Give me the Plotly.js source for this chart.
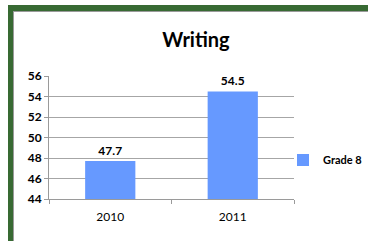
<!DOCTYPE html>
<html>
<head>
<meta charset="utf-8">
<script src="https://cdn.plot.ly/plotly-3.0.1.min.js"></script>
<style>
  html, body { margin:0; padding:0; background:#fff; }
  #wrap { position:relative; width:368px; height:241px; overflow:hidden; }
  #chart { position:absolute; left:0; top:0; width:368px; height:241px; }
  #frame { position:absolute; left:8px; top:5px; width:400px; height:300px;
           border-left:5px solid #386a33; border-top:6px solid #386a33; pointer-events:none; }
  #frame2 { position:absolute; left:13px; top:11px; width:400px; height:300px;
           border-left:1px solid #9a9a9a; border-top:1px solid #9a9a9a; pointer-events:none; }
</style>
</head>
<body>
<div id="wrap">
  <div id="chart"></div>
  <div id="frame"></div>
  <div id="frame2"></div>
</div>
<script>
const categories = ["2010", "2011"];
const grade8 = [47.7, 54.5];
const seriesName = "Grade 8";
const titleText = "Writing";

const FONT = "Lato, 'Open Sans', sans-serif";

Plotly.newPlot("chart", [{
  type: "bar",
  x: categories,
  y: grade8,
  name: seriesName,
  marker: { color: "#6699ff" },
  text: grade8.map(v => v.toFixed(1)),
  textposition: "outside",
  textfont: { family: FONT, size: 12, color: "#000", weight: "bold" },
  cliponaxis: false,
  showlegend: true,
  hoverinfo: "none"
}], {
  width: 368, height: 241,
  margin: { l: 49, r: 74, t: 76, b: 42, pad: 0, autoexpand: false },
  paper_bgcolor: "#fff", plot_bgcolor: "#fff",
  font: { family: FONT, color: "#000" },
  title: {
    text: "<b>" + titleText + "</b>",
    font: { family: FONT, size: 20, color: "#000" },
    x: 196/368, xanchor: "center", xref: "container",
    y: 1 - 40/241, yanchor: "middle", yref: "container"
  },
  bargap: 0.59,
  xaxis: {
    type: "category",
    showline: true, linecolor: "#9a9a9a", linewidth: 1,
    ticks: "outside", ticklen: 4, tickcolor: "#9a9a9a", tickson: "boundaries",
    ticklabelstandoff: 7,
    showgrid: false,
    tickfont: { family: FONT, size: 12, color: "#000" }
  },
  yaxis: {
    range: [44, 56], dtick: 2, tick0: 44,
    showline: true, linecolor: "#9a9a9a", linewidth: 1,
    ticks: "outside", ticklen: 4, tickcolor: "#9a9a9a",
    showgrid: true, gridcolor: "#a6a6a6", gridwidth: 1,
    zeroline: false,
    tickfont: { family: FONT, size: 12, color: "#000", weight: "bold" }
  },
  legend: {
    xref: "container", yref: "container",
    x: 283/368, xanchor: "left", y: 1 - 160/241, yanchor: "middle",
    font: { family: FONT, size: 11, color: "#000", weight: "bold" },
    itemwidth: 30, bgcolor: "rgba(0,0,0,0)"
  },
  showlegend: true
}, { staticPlot: true });
</script>
</body>
</html>
